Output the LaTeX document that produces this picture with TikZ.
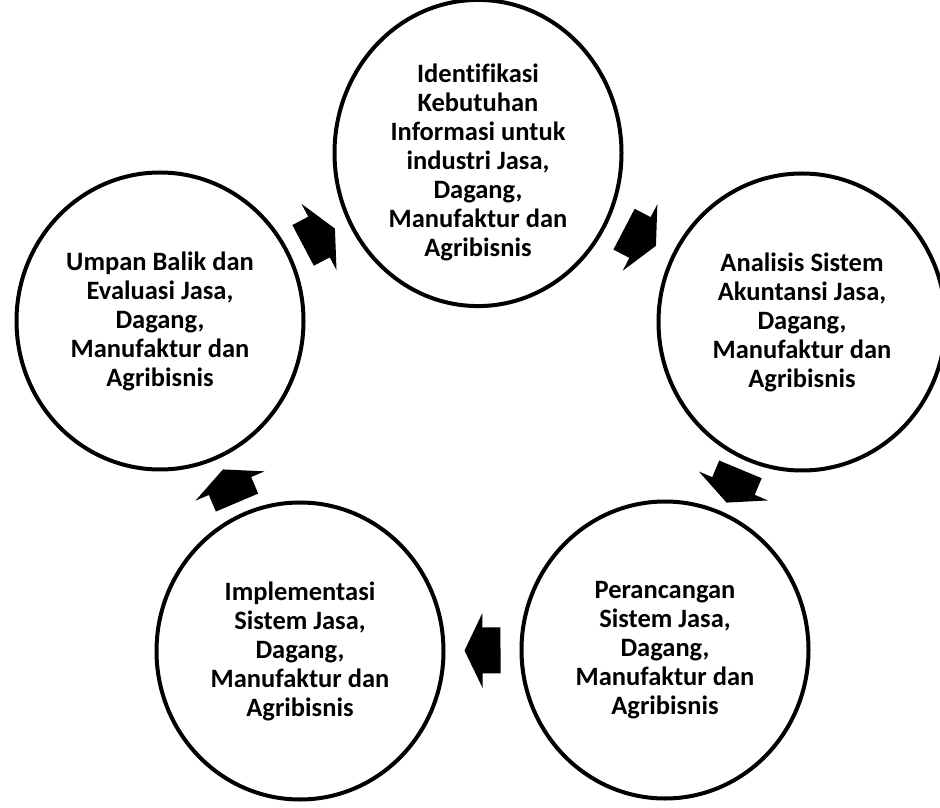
\documentclass[tikz,border=0pt]{standalone}
\usepackage{fontspec}
\setmainfont[Ligatures=NoCommon]{Carlito}
\usetikzlibrary{shapes.geometric, calc}

\begin{document}
\begin{tikzpicture}[x=1pt, y=1pt,
  stage/.style={ellipse, draw=black, line width=4pt, minimum width=287pt, minimum height=297pt,
    inner sep=0pt, align=center, font=\bfseries\fontsize{26.5}{29}\selectfont},
  cyclearrow/.pic={\fill[black] (-18,-23) -- (0,-23) -- (0,-37.5) -- (18,0) -- (0,37.5) -- (0,23) -- (-18,23) -- cycle;}
]
  \useasboundingbox (0,0) rectangle (940,807);

  \node[stage] (identifikasi) at (478,654) {\rule{0pt}{38pt}Identifikasi\\Kebutuhan\\Informasi untuk\\industri Jasa,\\Dagang,\\Manufaktur dan\\Agribisnis};
  \node[stage] (analisis) at (802,485) {Analisis Sistem\\Akuntansi Jasa,\\Dagang,\\Manufaktur dan\\Agribisnis};
  \node[stage] (perancangan) at (665,157) {Perancangan\\Sistem Jasa,\\Dagang,\\Manufaktur dan\\Agribisnis};
  \node[stage] (implementasi) at (300,156) {Implementasi\\Sistem Jasa,\\Dagang,\\Manufaktur dan\\Agribisnis};
  \node[stage] (umpanbalik) at (160,486) {Umpan Balik dan\\Evaluasi Jasa,\\Dagang,\\Manufaktur dan\\Agribisnis};

  % block arrows half way between the circles
  \foreach \from/\to in {identifikasi/analisis, analisis/perancangan, perancangan/implementasi,
                         implementasi/umpanbalik, umpanbalik/identifikasi}
    \path let \p1 = ($(\to)-(\from)$), \n1 = {atan2(\y1,\x1)} in
      ($(\from)!0.5!(\to)$) pic[rotate=\n1] {cyclearrow};
\end{tikzpicture}
\end{document}
